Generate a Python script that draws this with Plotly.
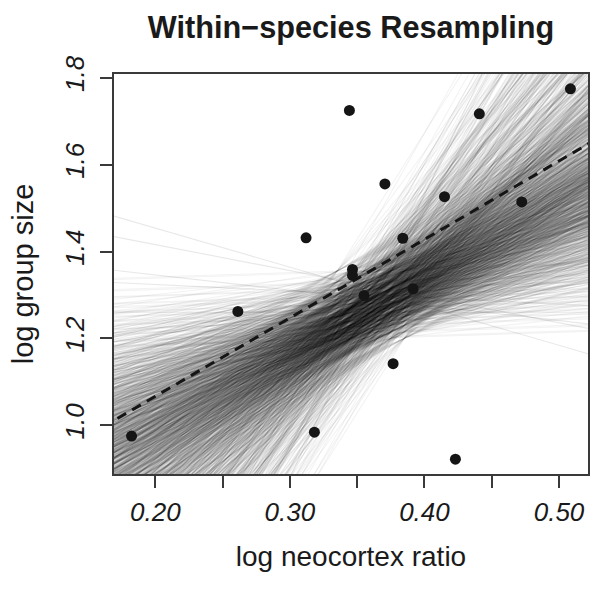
import numpy as np
import plotly.graph_objects as go

# Species means
neocortex = [0.1823, 0.2613, 0.3120, 0.3182, 0.3442, 0.3465, 0.3465, 0.3551, 0.3706,
             0.3767, 0.3839, 0.3915, 0.4149, 0.4230, 0.4408, 0.4723, 0.5085]
group_size = [0.975, 1.262, 1.4315, 0.984, 1.7248, 1.3586, 1.345, 1.2989, 1.5556,
              1.1418, 1.4306, 1.3143, 1.5264, 0.9218, 1.7172, 1.5143, 1.7747]

# Resampled regression lines: slope quantiles, levels at the waist, waist positions
resample_slopes = [0.1, 0.35, 0.5, 0.62, 0.72, 0.8, 0.87, 0.94, 1.0, 1.06,
                   1.11, 1.16, 1.21, 1.26, 1.3, 1.34, 1.38, 1.42, 1.46, 1.5,
                   1.53, 1.56, 1.59, 1.62, 1.65, 1.68, 1.71, 1.74, 1.77, 1.8,
                   1.83, 1.86, 1.9, 1.94, 1.98, 2.02, 2.06, 2.1, 2.15, 2.2,
                   2.26, 2.32, 2.39, 2.46, 2.54, 2.62, 2.71, 2.8, 2.9, 3.0,
                   3.12, 3.25, 3.4, 3.56, 3.75, 3.97, 4.22, 4.52, 4.9, 5.5]
resample_levels = [1.2, 1.215, 1.23, 1.24, 1.25, 1.26, 1.27, 1.28, 1.29, 1.30, 1.315,
                   1.33, 1.355]
resample_waist_x = [0.335, 0.345, 0.355, 0.36, 0.365, 0.375, 0.385]
resample_count = 1560
# a few rare outlying resampled lines (slope, level at x = 0.36)
rare_slopes = [-0.9, -0.6, -0.35, -0.15, 0.0, 5.8, 6.5]
rare_levels = [1.31, 1.32, 1.29, 1.30, 1.26, 1.30, 1.27]

x_ticks = [0.20, 0.25, 0.30, 0.35, 0.40, 0.45, 0.50]
x_tick_text = ["0.20", "", "0.30", "", "0.40", "", "0.50"]
y_ticks = [1.0, 1.2, 1.4, 1.6, 1.8]
y_tick_text = ["1.0", "1.2", "1.4", "1.6", "1.8"]

xmin, xmax = min(neocortex), max(neocortex)
ymin, ymax = min(group_size), max(group_size)
xr = [xmin - 0.04 * (xmax - xmin), xmax + 0.04 * (xmax - xmin)]
yr = [ymin - 0.04 * (ymax - ymin), ymax + 0.04 * (ymax - ymin)]

fig = go.Figure()

line_x = [0.15, 0.54]
line_style = dict(color="rgba(25,25,25,0.052)", width=1.1)
for k in range(resample_count):
    s = resample_slopes[k % len(resample_slopes)]
    lev = resample_levels[k % len(resample_levels)]
    wx = resample_waist_x[k % len(resample_waist_x)]
    fig.add_trace(go.Scatter(
        x=line_x, y=[lev + s * (xx - wx) for xx in line_x],
        mode="lines", line=line_style, hoverinfo="skip", showlegend=False))
for s, lev in zip(rare_slopes, rare_levels):
    fig.add_trace(go.Scatter(
        x=line_x, y=[lev + s * (xx - 0.36) for xx in line_x],
        mode="lines", line=dict(color="rgba(25,25,25,0.1)", width=1.1),
        hoverinfo="skip", showlegend=False))

slope, intercept = np.polyfit(neocortex, group_size, 1)
fig.add_trace(go.Scatter(
    x=line_x, y=[intercept + slope * xx for xx in line_x], mode="lines",
    line=dict(color="#151515", width=3, dash="10px,7px"),
    hoverinfo="skip", showlegend=False))

fig.add_trace(go.Scatter(
    x=neocortex, y=group_size, mode="markers",
    marker=dict(color="#151515", size=11, line=dict(width=0)),
    showlegend=False))

axis_common = dict(
    showgrid=False, zeroline=False, showline=True, mirror=True,
    linecolor="#3a3a3a", linewidth=1.6, ticks="outside", ticklen=12,
    tickwidth=1.5, tickcolor="#3a3a3a",
    tickfont=dict(family="Liberation Sans", size=26, color="#1a1a1a", style="italic"),
)

fig.update_layout(
    width=601, height=589,
    margin=dict(l=114, r=11, t=74, b=115),
    paper_bgcolor="white", plot_bgcolor="white",
    title=dict(text="<b>Within\u2212species Resampling</b>", x=0.584, xanchor="center",
               y=0.9535, yanchor="middle",
               font=dict(family="Liberation Sans", size=30.7, color="#1a1a1a")),
    xaxis=dict(range=xr, tickvals=x_ticks, ticktext=x_tick_text, ticklabelstandoff=2,
               title=dict(text="log neocortex ratio", standoff=20,
                          font=dict(family="Liberation Sans", size=28, color="#1a1a1a")),
               **axis_common),
    yaxis=dict(range=yr, tickvals=y_ticks, ticktext=y_tick_text, tickangle=-90,
               ticklabelstandoff=6,
               title=dict(text="log group size", standoff=18,
                          font=dict(family="Liberation Sans", size=29, color="#1a1a1a")),
               **axis_common),
)

fig.write_html("out.html", config={"displayModeBar": False},
               post_script="document.body.style.margin='0px';")
